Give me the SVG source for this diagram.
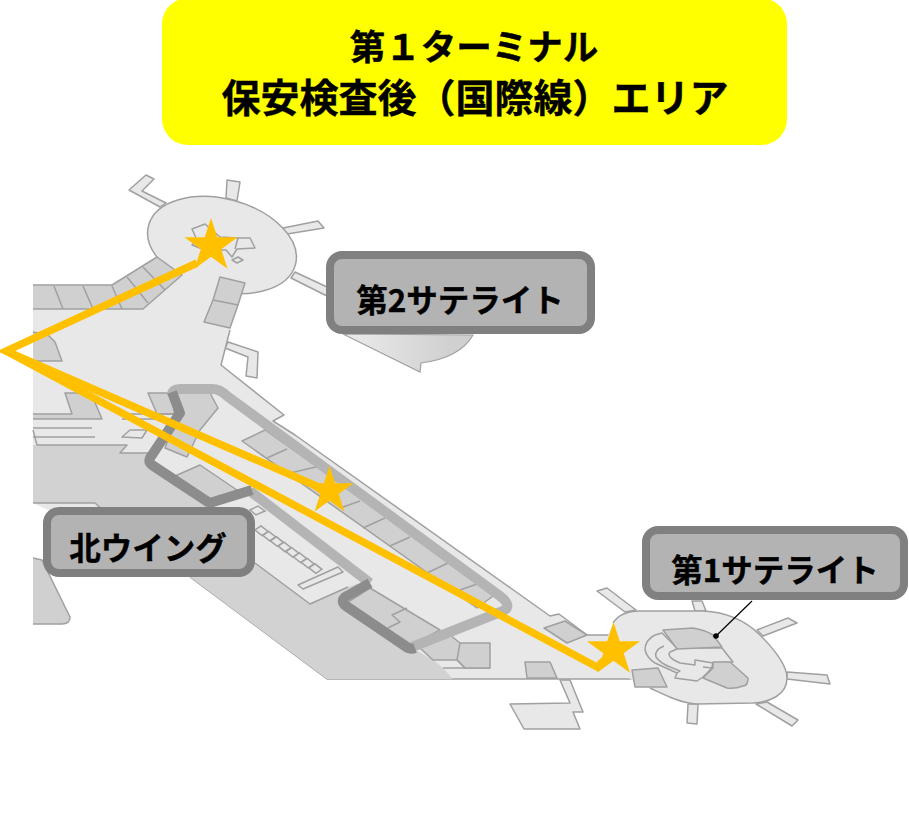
<svg xmlns="http://www.w3.org/2000/svg" width="909" height="834" viewBox="0 0 909 834">
<style>
.f{fill:#e8e8e8;stroke:#a0a0a0;stroke-width:1.5;stroke-linejoin:round}
.d{fill:#d0d0d0;stroke:#a0a0a0;stroke-width:1.5;stroke-linejoin:round}
.n{fill:none;stroke:#a0a0a0;stroke-width:1.5;stroke-linejoin:round}
.fl{fill:none;stroke:#b4b4b4;stroke-width:10;stroke-linejoin:round}
.fd{fill:none;stroke:#8c8c8c;stroke-width:10;stroke-linejoin:round}
.route{fill:none;stroke:#ffc000;stroke-width:7.5;stroke-linejoin:miter}
.box{fill:#b3b3b3;stroke:#808080;stroke-width:8}
.t{font-family:"Noto Sans CJK JP","Liberation Sans",sans-serif;font-weight:700;fill:#000;text-anchor:middle;stroke:#000;stroke-width:.4}
.star{fill:#ffc000}
.cell{fill:#e8e8e8;stroke:#a0a0a0;stroke-width:1.5}
</style>
<defs>
<polygon id="star" points="0,-28 6.3,-8.7 26.6,-8.7 10.2,3.3 16.5,22.7 0,10.7 -16.5,22.7 -10.2,3.3 -26.6,-8.7 -6.3,-8.7"/>
<polygon id="cell" points="0,0 7,5.5 13,1.5 6,-4"/>
<linearGradient id="sat2low" gradientUnits="userSpaceOnUse" x1="343" y1="0" x2="450" y2="0"><stop offset="0" stop-color="#ececec"/><stop offset="1" stop-color="#d0d0d0"/></linearGradient>
</defs>
<rect width="909" height="834" fill="#fff"/>
<g id="map">
<!-- satellite 2 spokes -->
<path class="f" d="M129,190L146,175L154,179L142,191L166,203L160,207Z"/>
<path class="f" d="M227,180L240,182L237,201L226,198Z"/>
<path class="f" d="M283,228L318,221L324,228L287,234Z"/>
<path class="f" d="M295,272L327,287L327,296L291,278Z"/>
<ellipse class="f" cx="222" cy="245" rx="76" ry="46" transform="rotate(15 222 245)"/>
<path class="f" d="M228,342L258,352L257,378L246,376L248,357L225,348Z"/>
<path d="M343,334L420,372L421,363Q460,358 473,335Z" fill="url(#sat2low)" stroke="#a0a0a0" stroke-width="1.2"/>
<!-- main floor -->
<path d="M33,309L143,309L182,274L200,285L242,290L230,330L221,365L284,415L273,421L295,435L512,589L550,616L559,614L587,635L612,635L632,679L327,679L190,577L33,503Z" fill="#e8e8e8"/>
<path class="n" d="M230,330L221,365L284,415L273,421L295,435L512,589L550,616L559,614L587,635L612,635M632,679L327,679L190,577"/>
<!-- satellite 1 spokes -->
<path class="f" d="M597,591L607,588L636,610L625,612Z"/>
<path class="f" d="M692,601L702,601L706,611L695,611Z"/>
<path class="f" d="M757,630L788,618L797,623L763,636Z"/>
<path class="f" d="M787,672L827,675L830,684L787,679Z"/>
<path class="f" d="M767,702L798,720L792,726L756,704Z"/>
<path class="f" d="M688,704L698,704L697,724L687,723Z"/>
<path d="M613,623C620,612 632,611 640,611L703,611C725,612 745,620 760,635C775,650 787,665 787,678C787,695 770,702 753,703L697,704C680,703 665,695 650,688L630,679L608,636Z" fill="#e8e8e8"/>
<path class="n" d="M613,623C620,612 632,611 640,611L703,611C725,612 745,620 760,635C775,650 787,665 787,678C787,695 770,702 753,703L697,704C680,703 665,695 650,688"/>
<path class="f" d="M662,633L655,635Q645,640 645,650Q647,658 655,663L677,673L675,678L697,681L703,677L712,668L713,663L733,662L722,648L677,648Z"/>
<path class="d" d="M663,630L693,628Q705,630 713,635L722,647L677,649Z"/>
<path class="d" d="M713,662L730,662L748,678Q748,686 743,686Q735,689 727,688L703,678L713,668Z"/>
<path class="n" d="M664,646Q654,650 656,657Q660,663 670,667L680,671L677,673M670,652L677,649M670,652Q666,657 680,663L695,665L695,660L713,663L712,668L703,667"/>
<path class="d" d="M632,670L658,668L667,687L635,687Z"/>
<!-- satellite 2 inner -->
<path class="f" d="M192,229L205,224L220,237L238,238L250,238L255,248L237,249L232,257L226,250L205,250L192,245L197,240Z"/>
<path class="n" d="M238,238L235,249"/>
<path class="f" d="M232,260L238,257L243,260L237,263Z"/>
<path class="d" d="M220,277L245,283L238,305L230,328L204,322L213,300Z"/>
<path class="n" d="M213,300L238,305"/>
<!-- top-left band -->
<path class="d" d="M33,285L112,285L157,257L182,275L143,309L33,309"/>
<path class="n" d="M54,286L63,309M83,286L93,309M112,286L122,309M127,277L148,303M143,267L165,290"/>
<path class="d" d="M33,332L48,335L55,342L62,361L33,361"/>
<path class="d" d="M33,414L72,414L65,393L91,393L102,419L33,419"/>
<path class="n" d="M33,428L92,428M33,437L95,437"/>
<!-- dark southern area -->
<path d="M33,445L127,445L120,453L148,453L148,463L208,505L370,590L412,648L433,660L443,668L453,679L327,679L190,577L110,520L95,503L33,503Z" fill="#d2d2d2"/>
<path class="n" d="M33,430L37,445L127,445L120,453L148,453M33,503L95,503L103,510M443,668L490,668"/>
<path class="f" d="M122,437L130,430L147,430L142,438Z"/>
<path class="d" d="M148,393L180,393L180,414L157,414Z"/>
<path class="n" d="M119,414L178,414M122,419L178,419"/>
<path class="d" d="M172,393L210,393L218,408L200,430L187,457L165,448L175,420Z"/>
<path class="d" d="M175,476L200,465L237,490L210,504Z"/>
<path class="d" d="M33,558L42,560L70,617Q70,624 62,624L33,624"/>
<!-- corridor row -->
<path class="d" d="M242,441L265,430L497,593L477,608Z"/>
<path class="n" d="M267,458L287,449M290,473L320,466M343,507L360,501M363,528L385,518M390,546L410,537M427,573L448,563M460,590L477,584"/>
<!-- lower light strip with ladder -->
<path d="M250,492L368,580L348,587L310,604L255,563L245,505Z" fill="#e8e8e8"/>
<path class="n" d="M255,563L310,604L348,587"/>
<polygon class="cell" points="250,510 258,506 265,511 256,515"/>
<use href="#cell" class="cell" x="255" y="530"/>
<use href="#cell" class="cell" x="262.7" y="535.4"/>
<use href="#cell" class="cell" x="270.4" y="540.8"/>
<use href="#cell" class="cell" x="278.1" y="546.2"/>
<use href="#cell" class="cell" x="285.8" y="551.6"/>
<use href="#cell" class="cell" x="293.5" y="557"/>
<use href="#cell" class="cell" x="301.2" y="562.4"/>
<use href="#cell" class="cell" x="308.9" y="567.8"/>
<path class="f" d="M298,585L303,589L343,572L338,567Z"/>
<!-- lower row -->
<path class="d" d="M348,602L370,588L440,630L412,645Z"/>
<path class="n" d="M407,608L392,615L400,622L388,628"/>
<path class="d" d="M420,648L450,635L460,643L490,643L490,668L465,668L457,660L433,660Z"/>
<path class="n" d="M460,643L457,660L465,668"/>
<path class="d" d="M525,662L550,662L557,678L527,678Z"/>
<path class="d" d="M544,628L565,621L587,635L567,643Z"/>
<path class="f" d="M560,680L570,703L510,704L524,729L580,729L573,712L583,712L570,680Z"/>
<!-- frame -->
<path class="fl" d="M172,395Q172,389 180,389L212,389Q220,389 227,396L500,596Q513,606 503,611L412,647"/>
<path class="fl" d="M250,491L370,583"/>
<path class="fd" d="M172,392L180,413L150,458Q148,462 152,465L208,502Q210,503 213,502L252,490"/>
<path class="fd" d="M370,583L345,597Q340,602 346,606L405,646Q410,650 415,648"/>
</g>
<g id="connectors">
<path class="route" d="M197,263L6,351L330,492"/>
<path class="route" d="M6,351L597,667L613,652"/>
<path d="M752,601L716,636" fill="none" stroke="#000" stroke-width="1.2"/>
<circle cx="716" cy="636" r="2.8" fill="#000"/>
</g>
<g id="star-satellite-2"><use href="#star" class="star" x="211" y="246"/></g>
<g id="star-north-wing"><use href="#star" class="star" transform="translate(329.5 491) scale(.9)"/></g>
<g id="star-satellite-1"><use href="#star" class="star" x="613.5" y="650"/></g>
<g id="title">
<rect x="162" y="-2" width="625" height="147" rx="26" fill="#ffff00"/>
<text class="t" x="474" y="60" font-size="35.5">第１ターミナル</text>
<text class="t" x="475" y="112" font-size="39">保安検査後（国際線）エリア</text>
</g>
<g id="label-satellite-2">
<rect class="box" x="330" y="255" width="261" height="75" rx="12"/>
<text class="t" x="460" y="312" font-size="31.5">第2サテライト</text>
</g>
<g id="label-north-wing">
<rect class="box" x="47" y="511" width="204" height="62" rx="12"/>
<text class="t" x="148" y="560" font-size="31.5">北ウイング</text>
</g>
<g id="label-satellite-1">
<rect class="box" x="646" y="530" width="258" height="66" rx="12"/>
<text class="t" x="775" y="582" font-size="31.5">第1サテライト</text>
</g>
</svg>
